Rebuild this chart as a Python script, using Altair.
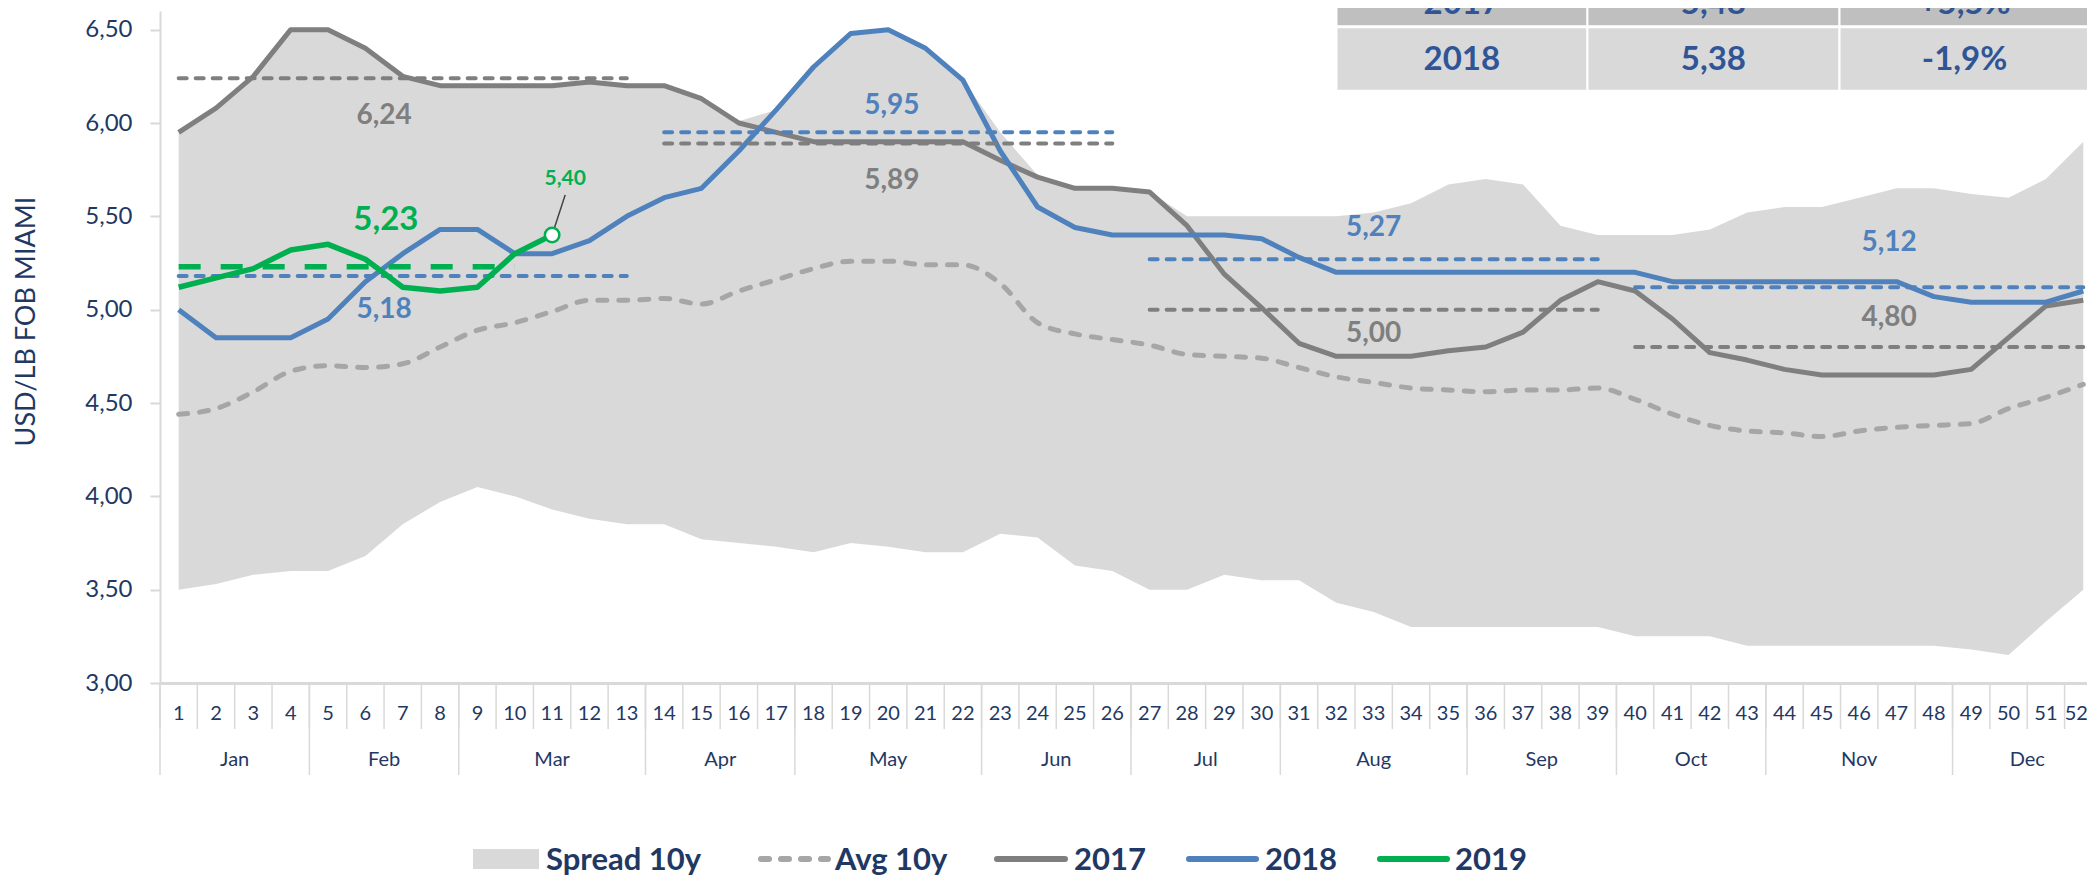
import altair as alt
import pandas as pd

# ---------------- data ----------------
weeks = list(range(1, 53))
month_names = ["Jan", "Feb", "Mar", "Apr", "May", "Jun", "Jul", "Aug", "Sep", "Oct", "Nov", "Dec"]
month_first_week = [1, 5, 9, 14, 18, 23, 27, 31, 36, 40, 44, 49]

spread_high = [5.95, 6.08, 6.25, 6.50, 6.50, 6.40, 6.25, 6.20, 6.20, 6.20,
               6.20, 6.22, 6.20, 6.20, 6.13, 6.01, 6.07, 6.30, 6.48, 6.50,
               6.40, 6.23, 5.95, 5.72, 5.65, 5.65, 5.63, 5.50, 5.50, 5.50,
               5.50, 5.50, 5.52, 5.57, 5.67, 5.70, 5.67, 5.45, 5.40, 5.40,
               5.40, 5.43, 5.52, 5.55, 5.55, 5.60, 5.65, 5.65, 5.62, 5.60,
               5.70, 5.90]
spread_low = [3.50, 3.53, 3.58, 3.60, 3.60, 3.68, 3.85, 3.97, 4.05, 4.00,
              3.93, 3.88, 3.85, 3.85, 3.77, 3.75, 3.73, 3.70, 3.75, 3.73,
              3.70, 3.70, 3.80, 3.78, 3.63, 3.60, 3.50, 3.50, 3.58, 3.55,
              3.55, 3.43, 3.38, 3.30, 3.30, 3.30, 3.30, 3.30, 3.30, 3.25,
              3.25, 3.25, 3.20, 3.20, 3.20, 3.20, 3.20, 3.20, 3.18, 3.15,
              3.33, 3.50]
avg10 = [4.44, 4.47, 4.56, 4.67, 4.70, 4.69, 4.71, 4.80, 4.89, 4.93,
         4.99, 5.05, 5.05, 5.06, 5.03, 5.10, 5.16, 5.22, 5.26, 5.26,
         5.24, 5.24, 5.14, 4.93, 4.87, 4.84, 4.81, 4.76, 4.75, 4.74,
         4.69, 4.64, 4.61, 4.58, 4.57, 4.56, 4.57, 4.57, 4.58, 4.52,
         4.44, 4.38, 4.35, 4.34, 4.32, 4.35, 4.37, 4.38, 4.39, 4.47,
         4.53, 4.60]
y2017 = [5.95, 6.08, 6.25, 6.50, 6.50, 6.40, 6.25, 6.20, 6.20, 6.20,
         6.20, 6.22, 6.20, 6.20, 6.13, 6.00, 5.95, 5.90, 5.90, 5.90,
         5.90, 5.90, 5.80, 5.71, 5.65, 5.65, 5.63, 5.45, 5.19, 5.01,
         4.82, 4.75, 4.75, 4.75, 4.78, 4.80, 4.88, 5.05, 5.15, 5.10,
         4.95, 4.77, 4.73, 4.68, 4.65, 4.65, 4.65, 4.65, 4.68, 4.85,
         5.02, 5.05]
y2018 = [5.00, 4.85, 4.85, 4.85, 4.95, 5.15, 5.30, 5.43, 5.43, 5.30,
         5.30, 5.37, 5.50, 5.60, 5.65, 5.85, 6.07, 6.30, 6.48, 6.50,
         6.40, 6.23, 5.85, 5.55, 5.44, 5.40, 5.40, 5.40, 5.40, 5.38,
         5.28, 5.20, 5.20, 5.20, 5.20, 5.20, 5.20, 5.20, 5.20, 5.20,
         5.15, 5.15, 5.15, 5.15, 5.15, 5.15, 5.15, 5.07, 5.04, 5.04,
         5.04, 5.10]
y2019 = [5.12, 5.17, 5.22, 5.32, 5.35, 5.27, 5.12, 5.10, 5.12, 5.30, 5.40]

# quarterly averages
q_start = [1, 14, 27, 40]
q_end = [13, 26, 39, 52]
avg17_q = [6.24, 5.89, 5.00, 4.80]
avg18_q = [5.18, 5.95, 5.27, 5.12]
avg19_value = 5.23
avg19_start, avg19_end = 1, 10

# label anchors (week, value)
q_label_x = [6.5, 20.1, 33.0, 46.8]
q17_label_y = [6.04, 5.69, 4.87, 4.955]
q18_label_y = [5.00, 6.09, 5.44, 5.355]
avg19_label_pos = (6.55, 5.48)
last19_label_pos = (11.35, 5.70)
leader_from = (11.35, 5.615)

# summary table
table_years = ["2017", "2018"]
table_avg = ["5,48", "5,38"]
table_chg = ["+5,5%", "-1,9%"]
table_colors = ["#bfbfbf", "#d9d9d9"]
table_col_bounds = [32.0, 38.72, 45.47, 52.17]
table_row_bounds = [(6.523, 6.85), (6.178, 6.507)]
table_row_text_y = [6.64, 6.337]

legend_items = ["Spread 10y", "Avg 10y", "2017", "2018", "2019"]

# ---------------- styling ----------------
NAVY = "#1f3864"
GRAY = "#7f7f7f"
LGRAY = "#a6a6a6"
BLUE = "#4f81bd"
GREEN = "#00b050"
FILL = "#d9d9d9"
FONT = "Lato"
W, H = 1927, 672


def fmt(v):
    return f"{v:.2f}".replace(".", ",")


xs = alt.Scale(domain=[0.5, 52.1], nice=False, zero=False)
ys = alt.Scale(domain=[3, 6.6], nice=False, zero=False)
Y_TITLE = "USD/LB FOB MIAMI"

df = pd.DataFrame({"week": weeks, "low": spread_low, "high": spread_high,
                   "avg10": avg10, "y2017": y2017, "y2018": y2018})
df19 = pd.DataFrame({"week": weeks[:len(y2019)], "v": y2019})

x_axis = alt.Axis(values=weeks, labels=False, ticks=False, tickSize=0,
                  domainColor=FILL, domainWidth=3, grid=False)
y_axis = alt.Axis(values=[3.0, 3.5, 4.0, 4.5, 5.0, 5.5, 6.0, 6.5],
                  labelExpr="replace(format(datum.value, '.2f'), '.', ',')",
                  titleFontSize=27, titleFontWeight="normal",
                  titleColor=NAVY, titleFont=FONT, titleX=-134, titleY=310, titleAngle=270,
                  titleAlign="center", titleBaseline="middle",
                  labelFontSize=24, labelColor=NAVY, labelFont=FONT, labelPadding=18,
                  tickSize=10, tickColor=FILL, tickWidth=2, domainColor=FILL, domainWidth=2,
                  grid=False, labelOverlap=False)


def X(field):
    return alt.X(field, scale=xs, title=None)


def Y(field):
    return alt.Y(field, scale=ys, title=Y_TITLE)


area = alt.Chart(df).mark_area(color=FILL).encode(
    x=alt.X("week:Q", scale=xs, axis=x_axis, title=None),
    y=alt.Y("high:Q", scale=ys, axis=y_axis, title=Y_TITLE),
    y2="low:Q",
)
avg_line = alt.Chart(df).mark_line(color=LGRAY, strokeWidth=5, strokeDash=[9, 12],
                                   strokeCap="round", interpolate="monotone").encode(
    x=X("week:Q"), y=Y("avg10:Q"))
line17 = alt.Chart(df).mark_line(color=GRAY, strokeWidth=5, strokeJoin="round").encode(
    x=X("week:Q"), y=Y("y2017:Q"))
line18 = alt.Chart(df).mark_line(color=BLUE, strokeWidth=5, strokeJoin="round").encode(
    x=X("week:Q"), y=Y("y2018:Q"))

dq17 = pd.DataFrame({"s": q_start, "e": q_end, "v": avg17_q})
dq18 = pd.DataFrame({"s": q_start, "e": q_end, "v": avg18_q})
seg17 = alt.Chart(dq17).mark_rule(color=GRAY, strokeWidth=4, strokeDash=[8, 9], strokeCap="round").encode(
    x=X("s:Q"), x2="e:Q", y=Y("v:Q"))
seg18 = alt.Chart(dq18).mark_rule(color=BLUE, strokeWidth=4, strokeDash=[8, 9], strokeCap="round").encode(
    x=X("s:Q"), x2="e:Q", y=Y("v:Q"))

line19 = alt.Chart(df19).mark_line(color=GREEN, strokeWidth=5.5, strokeJoin="round").encode(
    x=X("week:Q"), y=Y("v:Q"))
seg19 = alt.Chart(pd.DataFrame({"s": [avg19_start], "e": [avg19_end], "v": [avg19_value]})).mark_rule(
    color=GREEN, strokeWidth=5.5, strokeDash=[22, 20]).encode(x=X("s:Q"), x2="e:Q", y=Y("v:Q"))

leader = alt.Chart(pd.DataFrame({"x1": [leader_from[0]], "y1": [leader_from[1]],
                                 "x2": [weeks[len(y2019) - 1]], "y2": [y2019[-1]]})).mark_rule(
    color="#404040", strokeWidth=1.5).encode(x=X("x1:Q"), x2="x2:Q", y=Y("y1:Q"), y2="y2:Q")
point19 = alt.Chart(pd.DataFrame({"w": [weeks[len(y2019) - 1]], "v": [y2019[-1]]})).mark_point(
    shape="circle", filled=True, fill="white", stroke=GREEN, strokeWidth=2.5, size=210, opacity=1).encode(
    x=X("w:Q"), y=Y("v:Q"))

lab17 = alt.Chart(pd.DataFrame({"x": q_label_x, "y": q17_label_y, "t": [fmt(v) for v in avg17_q]})).mark_text(
    font=FONT, fontSize=28, fontWeight="bold", color=GRAY, baseline="middle").encode(
    x=X("x:Q"), y=Y("y:Q"), text="t:N")
lab18 = alt.Chart(pd.DataFrame({"x": q_label_x, "y": q18_label_y, "t": [fmt(v) for v in avg18_q]})).mark_text(
    font=FONT, fontSize=28, fontWeight="bold", color=BLUE, baseline="middle").encode(
    x=X("x:Q"), y=Y("y:Q"), text="t:N")
lab19 = alt.Chart(pd.DataFrame({"x": [avg19_label_pos[0]], "y": [avg19_label_pos[1]],
                                "t": [fmt(avg19_value)]})).mark_text(
    font=FONT, fontSize=33, fontWeight="bold", color=GREEN, baseline="middle").encode(
    x=X("x:Q"), y=Y("y:Q"), text="t:N")
lab19b = alt.Chart(pd.DataFrame({"x": [last19_label_pos[0]], "y": [last19_label_pos[1]],
                                 "t": [fmt(y2019[-1])]})).mark_text(
    font=FONT, fontSize=21, fontWeight="bold", color=GREEN, baseline="middle").encode(
    x=X("x:Q"), y=Y("y:Q"), text="t:N")

# table
t_rows = []
t_text = []
for r, (yr, av, ch) in enumerate(zip(table_years, table_avg, table_chg)):
    for c, txt in enumerate([yr, av, ch]):
        x1, x2 = table_col_bounds[c] + 0.03, table_col_bounds[c + 1] - 0.03
        t_rows.append({"x1": x1, "x2": x2, "y1": table_row_bounds[r][0], "y2": table_row_bounds[r][1],
                       "bg": table_colors[r]})
        t_text.append({"x": (x1 + x2) / 2, "y": table_row_text_y[r], "t": txt})
table_rect = alt.Chart(pd.DataFrame(t_rows)).mark_rect().encode(
    x=X("x1:Q"), x2="x2:Q", y=Y("y1:Q"), y2="y2:Q", color=alt.Color("bg:N", scale=None))
table_txt = alt.Chart(pd.DataFrame(t_text)).mark_text(
    font=FONT, fontSize=33, fontWeight="bold", color="#2f5597", baseline="middle").encode(
    x=X("x:Q"), y=Y("y:Q"), text="t:N")

# category axis (week numbers, week / month separators, month names)
wk_lab = alt.Chart(pd.DataFrame({"w": weeks[:-1], "t": [str(w) for w in weeks[:-1]]})).mark_text(
    font=FONT, fontSize=20, color=NAVY, baseline="middle").encode(
    x=X("w:Q"), y=alt.value(H + 31), text="t:N")
wk_lab_last = alt.Chart(pd.DataFrame({"w": weeks[-1:], "t": [str(weeks[-1])]})).mark_text(
    font=FONT, fontSize=20, color=NAVY, baseline="middle", dx=-7).encode(
    x=X("w:Q"), y=alt.value(H + 31), text="t:N")
wk_sep = alt.Chart(pd.DataFrame({"b": [w - 0.5 for w in weeks]})).mark_rule(
    color=FILL, strokeWidth=1.5).encode(x=X("b:Q"), y=alt.value(H), y2=alt.value(H + 46))
mo_sep = alt.Chart(pd.DataFrame({"b": [w - 0.5 for w in month_first_week]})).mark_rule(
    color=FILL, strokeWidth=1.5).encode(x=X("b:Q"), y=alt.value(H), y2=alt.value(H + 92))
month_last = [month_first_week[i + 1] - 1 for i in range(len(month_first_week) - 1)] + [weeks[-1]]
mo_lab = alt.Chart(pd.DataFrame({"m": month_names,
                                 "c": [(a + b) / 2 for a, b in zip(month_first_week, month_last)]})).mark_text(
    font=FONT, fontSize=20, color=NAVY, baseline="middle").encode(
    x=X("c:Q"), y=alt.value(H + 77), text="m:N")

# legend
one = pd.DataFrame({"k": [0]})
LB = 859          # text baseline (plot coords)
LY = LB - 11      # symbol centre
leg = [
    alt.Chart(one).mark_rect(color=FILL).encode(x=alt.value(313), x2=alt.value(379),
                                                y=alt.value(LY - 10), y2=alt.value(LY + 10)),
    alt.Chart(one).mark_rule(color=LGRAY, strokeWidth=6, strokeDash=[8, 12], strokeCap="round").encode(
        x=alt.value(601), x2=alt.value(668), y=alt.value(LY)),
    alt.Chart(one).mark_rule(color=GRAY, strokeWidth=6, strokeCap="round").encode(
        x=alt.value(837), x2=alt.value(905), y=alt.value(LY)),
    alt.Chart(one).mark_rule(color=BLUE, strokeWidth=6, strokeCap="round").encode(
        x=alt.value(1029), x2=alt.value(1096), y=alt.value(LY)),
    alt.Chart(one).mark_rule(color=GREEN, strokeWidth=6, strokeCap="round").encode(
        x=alt.value(1220), x2=alt.value(1287), y=alt.value(LY)),
]
for name, lx in zip(legend_items, [386, 675, 914, 1105, 1295]):
    leg.append(alt.Chart(one).mark_text(text=name, align="left", baseline="alphabetic", font=FONT,
                                        fontSize=31, fontWeight="bold", color=NAVY).encode(
        x=alt.value(lx), y=alt.value(LB)))

chart = alt.layer(
    area, avg_line, line17, line18, seg17, seg18, line19, seg19, leader, point19,
    lab17, lab18, lab19, lab19b, table_rect, table_txt, wk_sep, mo_sep, wk_lab, wk_lab_last,
    mo_lab, *leg
).properties(
    width=W, height=H,
    padding={"left": 152, "top": 3, "right": 0, "bottom": 195},
    autosize=alt.AutoSizeParams(type="none"),
).configure(font=FONT).configure_view(strokeWidth=0)

chart.save("out.html", embed_options={"renderer": "svg", "actions": False})
